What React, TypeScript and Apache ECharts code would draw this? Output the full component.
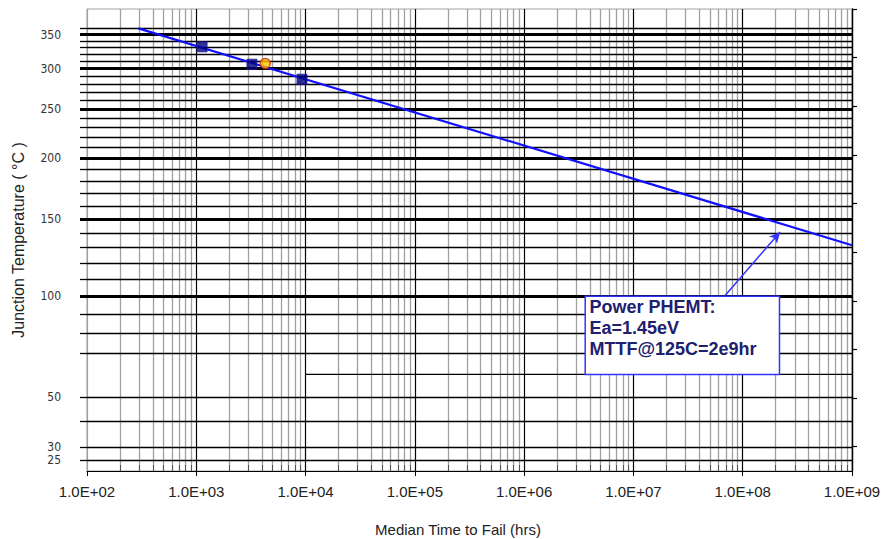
import React, { useEffect, useRef } from 'react';
import * as echarts from 'echarts';

// ---- axis / tick data ----
const decadeTicks = [1e2, 1e3, 1e4, 1e5, 1e6, 1e7, 1e8, 1e9];
const xTickLabels = ['1.0E+02', '1.0E+03', '1.0E+04', '1.0E+05', '1.0E+06', '1.0E+07', '1.0E+08', '1.0E+09'];
const minorMultipliers = [2, 3, 4, 5, 6, 7, 8, 9];

const thinGridTempsC = [360, 340, 330, 320, 310, 290, 280, 270, 260, 240, 230, 220, 210, 190, 180, 170, 160, 140, 130, 120, 110, 90, 80, 70, 50, 40, 30, 25];
const majorGridTempsC = [350, 300, 250, 200, 150, 100];
const partialGridTempC = [60];
const partialGridTimes = [1e4, 1e9];
const labelTempsC = [350, 300, 250, 200, 150, 100, 50, 30, 25];
const rightTickValues = [1.5, 1.7, 1.9, 2.1, 2.3, 2.5, 2.7, 2.9, 3.1, 3.3];
const yMin = 1.5;
const yMax = 3.4;

// ---- series data ----
const modelTimesHrs = [295, 1e9];
const modelTempsC = [360, 131.6];
const testTimesHrs = [1130, 3230, 9270];
const testTempsC = [331, 306, 286];
const refTimesHrs = [4280];
const refTempsC = [307];

// ---- annotation ----
const annotationLines = ['Power PHEMT:', 'Ea=1.45eV', 'MTTF@125C=2e9hr'];
const boxTimes = [3.62e6, 2.17e8];
const boxTempsC = [100, 60];
const arrowTimes = [6.9e7, 2.2e8];
const arrowTempsC = [100.4, 140.8];

const invT = (c: number) => 1000 / (c + 273);
const FONT = "'Liberation Sans', Arial, sans-serif";

export default function App() {
  const ref = useRef<HTMLDivElement>(null);
  useEffect(() => {
    if (!ref.current) return;
    const chart = echarts.init(ref.current, null, { renderer: 'svg' });

    const minorX: number[] = [];
    decadeTicks.slice(0, -1).forEach((d) => minorMultipliers.forEach((m) => minorX.push(d * m)));

    const decadeColors = decadeTicks.map((_, i) => (i === 0 ? '#a0a0a0' : '#000'));

    const option: any = {
      animation: false,
      backgroundColor: '#fff',
      grid: {
        left: 87, right: 31, top: 9, bottom: 68, show: true, borderColor: '#a0a0a0', borderWidth: 1,
        containLabel: false, outerBoundsMode: 'none',
      },
      xAxis: [
        {
          type: 'log', logBase: 10, min: 1e2, max: 1e9, position: 'bottom', z: 0,
          axisLine: { show: true, lineStyle: { color: '#000', width: 1 } },
          axisTick: { show: true, inside: false, length: 5, lineStyle: { color: '#000' } },
          axisLabel: {
            margin: 13, fontSize: 15, color: '#222', fontFamily: FONT,
            formatter: (v: number) => xTickLabels[Math.round(Math.log10(v)) - 2] ?? '',
          },
          splitLine: { show: true, lineStyle: { color: decadeColors, width: 1.2 } },
          name: 'Median Time to Fail (hrs)', nameLocation: 'middle', nameGap: 51,
          nameTextStyle: { fontSize: 15, color: '#222', fontFamily: FONT, padding: [0, 23, 0, 0] },
        },
        {
          type: 'log', logBase: 10, min: 1e2, max: 1e9, position: 'bottom', z: 0,
          axisLine: { show: false },
          axisTick: { show: true, inside: true, length: 6, customValues: minorX, lineStyle: { color: '#555' } },
          axisLabel: { show: false },
          splitLine: { show: true, lineStyle: { color: '#a0a0a0', width: 1.3 } },
        },
      ],
      yAxis: [
        {
          type: 'value', min: yMin, max: yMax, inverse: true, position: 'left', z: 1,
          axisLine: { show: false },
          axisTick: { show: true, inside: false, length: 7, customValues: thinGridTempsC.map(invT), lineStyle: { color: '#000', width: 1.3 } },
          axisLabel: {
            show: true, customValues: labelTempsC.map(invT), margin: 26, fontSize: 12, color: '#333',
            fontFamily: "'Liberation Sans Narrow', 'DejaVu Sans Condensed', Arial, sans-serif",
            formatter: (v: number) => String(Math.round(1000 / v - 273)),
          },
          splitLine: { show: true, lineStyle: { color: '#000', width: 1.3 } },
          name: 'Junction Temperature ( °C )', nameLocation: 'middle', nameGap: 61, nameRotate: 90,
          nameTextStyle: { fontSize: 16, color: '#222', fontFamily: FONT },
        },
        {
          type: 'value', min: yMin, max: yMax, inverse: true, position: 'left', z: 1,
          axisLine: { show: false },
          axisTick: { show: true, inside: false, length: 7, customValues: majorGridTempsC.map(invT), lineStyle: { color: '#000', width: 3 } },
          axisLabel: { show: false },
          splitLine: { show: true, lineStyle: { color: '#000', width: 3 } },
        },
        {
          type: 'value', min: yMin, max: yMax, inverse: true, position: 'right', z: 1,
          axisLine: { show: true, lineStyle: { color: '#000', width: 1.3 } },
          axisTick: { show: true, inside: false, length: 5, customValues: rightTickValues, lineStyle: { color: '#000', width: 1.2 } },
          axisLabel: { show: false },
          splitLine: { show: false },
        },
      ],
      series: [
        {
          type: 'line', xAxisIndex: 0, yAxisIndex: 0, z: 2,
          data: partialGridTimes.map((t) => [t, invT(partialGridTempC[0])]),
          symbol: 'none', silent: true,
          lineStyle: { color: '#000', width: 1.3 },
        },
        {
          type: 'line', xAxisIndex: 0, yAxisIndex: 0, z: 3,
          data: modelTimesHrs.map((t, i) => [t, invT(modelTempsC[i])]),
          symbol: 'none', showSymbol: false,
          lineStyle: { color: '#1010ff', width: 2.2 },
        },
        {
          type: 'scatter', xAxisIndex: 0, yAxisIndex: 0, z: 4,
          data: testTimesHrs.map((t, i) => [t, invT(testTempsC[i])]),
          symbol: 'rect', symbolSize: 10,
          itemStyle: { color: '#00007c', borderColor: '#1a1aa0', borderWidth: 1 },
        },
        {
          type: 'scatter', xAxisIndex: 0, yAxisIndex: 0, z: 5,
          data: refTimesHrs.map((t, i) => [t, invT(refTempsC[i])]),
          symbol: 'circle', symbolSize: 10,
          itemStyle: { color: '#ffc000', borderColor: '#d03000', borderWidth: 1.5 },
        },
        {
          type: 'line', xAxisIndex: 0, yAxisIndex: 0, z: 6,
          data: [],
          markArea: {
            silent: true, z: 6,
            itemStyle: { color: '#fff', borderColor: '#3333ff', borderWidth: 1.5 },
            label: {
              show: true, position: [5, 1], align: 'left', verticalAlign: 'top',
              fontSize: 18, fontWeight: 'bold', fontFamily: FONT, color: '#20206e', lineHeight: 21,
              formatter: annotationLines.join('\n'),
            },
            data: [[
              { coord: [boxTimes[0], invT(boxTempsC[0])] },
              { coord: [boxTimes[1], invT(boxTempsC[1])] },
            ]],
          },
          markLine: {
            silent: true, z: 7, symbol: ['none', 'arrow'], symbolSize: [8, 11],
            lineStyle: { color: '#3333ff', width: 1.5, type: 'solid' },
            label: { show: false },
            data: [[
              { coord: [arrowTimes[0], invT(arrowTempsC[0])] },
              { coord: [arrowTimes[1], invT(arrowTempsC[1])] },
            ]],
          },
        },
      ],
    };
    chart.setOption(option);
    return () => chart.dispose();
  }, []);
  return <div ref={ref} style={{ position: 'absolute', left: 0, top: 0, width: 883, height: 539 }} />;
}
